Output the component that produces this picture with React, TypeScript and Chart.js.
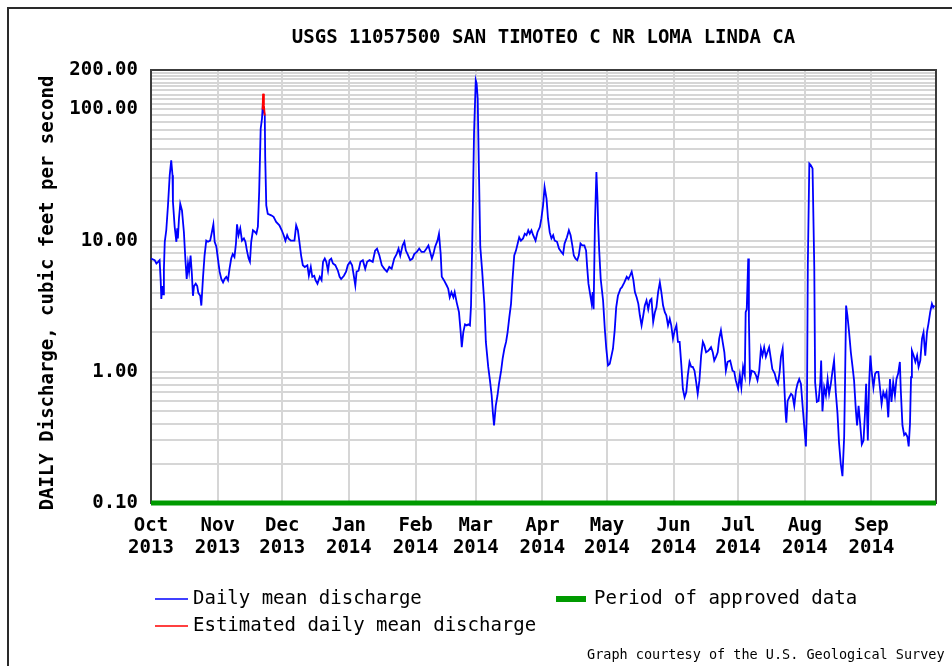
import React, { useEffect, useRef } from 'react';
import { Chart, registerables } from 'chart.js';

Chart.register(...registerables);

const FONT = '"DejaVu Sans Mono", "Liberation Mono", monospace';

const TITLE = 'USGS 11057500 SAN TIMOTEO C NR LOMA LINDA CA';
const Y_TITLE = 'DAILY Discharge, cubic feet per second';
const CREDIT = 'Graph courtesy of the U.S. Geological Survey';
const LEGEND_FLOW = 'Daily mean discharge';
const LEGEND_EST = 'Estimated daily mean discharge';
const LEGEND_APPROVED = 'Period of approved data';

// x axis: days since 1 Oct 2013
const X_MIN = 0;
const X_MAX = 365;
const monthStartDays = [0, 31, 61, 92, 123, 151, 182, 212, 243, 273, 304, 335];
const monthLabels = ['Oct', 'Nov', 'Dec', 'Jan', 'Feb', 'Mar', 'Apr', 'May', 'Jun', 'Jul', 'Aug', 'Sep'];
const yearLabels = ['2013', '2013', '2013', '2014', '2014', '2014', '2014', '2014', '2014', '2014', '2014', '2014'];

// y axis (log)
const Y_MIN = 0.1;
const Y_MAX = 200;
const yLabelValues = [0.1, 1, 10, 100, 200];
const yGridValues = [
  0.1, 0.2, 0.3, 0.4, 0.5, 0.6, 0.7, 0.8, 0.9,
  1, 2, 3, 4, 5, 6, 7, 8, 9,
  10, 20, 30, 40, 50, 60, 70, 80, 90,
  100, 110, 120, 130, 140, 150, 160, 170, 180, 190, 200,
];

// Daily mean discharge (cfs)
const flowDays = [
  0, 1.7, 2.5, 3.3, 4.0, 4.5, 4.8, 5.2, 5.6, 6.0, 6.4, 7.1, 7.9, 8.7, 9.4, 10.0, 10.2, 11.0, 11.8, 12.2,
  12.5, 13.0, 13.6, 14.4, 15.3, 16.0, 16.6, 17.2, 17.7, 18.4, 19.0, 19.5, 20.0, 20.8, 21.5, 22.0, 22.9, 23.4, 24.2, 24.9,
  25.7, 26.5, 27.5, 28.3, 29.0, 29.6, 30.4, 31.1, 31.9, 32.7, 33.5, 34.2, 35.0, 35.8, 36.5, 37.3, 38.0, 38.8, 39.5, 40.0,
  40.7, 41.5, 42.3, 43.2, 43.9, 44.6, 45.4, 46.0, 46.6, 47.4, 48.2, 49.0, 49.7, 50.3, 51.0, 51.6, 52.0, 52.9, 53.1, 53.6,
  54.3, 55.9, 57.0, 58.2, 59.7, 60.8, 61.7, 62.5, 63.3, 63.9, 65.0, 66.7, 67.5, 68.3, 69.0, 69.8, 70.6, 71.5, 72.7, 73.4,
  74.3, 75.0, 75.9, 76.5, 77.4, 78.5, 79.3, 80.0, 80.8, 81.5, 82.3, 83.0, 83.8, 84.6, 85.7, 86.9, 87.7, 88.4, 89.7, 90.7,
  91.5, 92.6, 93.5, 94.3, 95.0, 95.6, 96.5, 97.4, 98.5, 99.6, 100.5, 101.6, 103.1, 104.2, 105.1, 106.2, 107.3, 108.5, 109.7, 110.8,
  111.9, 113.1, 114.2, 115.1, 115.9, 117.0, 117.8, 118.5, 119.3, 120.5, 121.6, 122.4, 123.6, 124.7, 125.8, 127.0, 128.1, 129.0, 129.8, 130.6,
  131.3, 132.1, 133.2, 133.9, 134.7, 135.2, 136.2, 137.5, 138.2, 138.9, 139.7, 140.6, 141.2, 142.1, 143.2, 144.0, 144.5, 145.2, 146.0, 146.8,
  147.5, 148.3, 148.8, 149.4, 150.2, 151.0, 151.4, 151.9, 152.5, 153.1, 154.0, 155.0, 155.7, 156.8, 157.6, 158.4, 159.0, 159.5, 160.3, 161.1,
  161.8, 162.8, 163.5, 164.3, 165.1, 165.8, 166.6, 167.4, 168.1, 168.9, 169.7, 170.5, 171.2, 172.0, 173.0, 173.8, 174.6, 175.4, 176.1, 176.9,
  177.7, 178.8, 179.7, 180.8, 181.5, 182.3, 183.0, 183.9, 184.6, 185.4, 186.2, 187.0, 187.7, 188.8, 189.7, 190.8, 191.6, 192.3, 193.4, 194.3,
  195.1, 195.9, 196.6, 197.4, 198.2, 198.9, 199.7, 200.5, 201.5, 202.3, 202.8, 203.4, 204.2, 204.9, 205.4, 205.8, 206.4, 207.1, 207.6, 207.9,
  208.4, 209.1, 210.2, 211.0, 211.7, 212.5, 213.3, 214.0, 214.8, 215.6, 216.3, 217.1, 218.3, 218.9, 220.1, 221.2, 222.0, 222.7, 223.5, 224.3,
  225.0, 225.8, 226.6, 227.3, 228.1, 228.9, 229.6, 230.4, 231.2, 232.0, 232.7, 233.5, 234.3, 235.0, 235.8, 236.6, 237.3, 238.1, 238.9, 239.6,
  240.4, 241.2, 241.9, 242.7, 243.5, 244.3, 245.0, 245.8, 246.6, 247.3, 248.1, 248.9, 249.6, 250.4, 251.2, 251.9, 252.7, 253.5, 254.2, 255.0,
  255.8, 256.6, 257.3, 258.1, 259.2, 260.4, 261.2, 261.9, 262.7, 263.5, 264.2, 265.0, 265.8, 266.6, 267.3, 268.1, 269.3, 270.4, 271.2, 271.9,
  273.0, 273.8, 274.5, 275.3, 276.1, 276.5, 277.0, 277.7, 278.0, 278.5, 279.3, 280.5, 281.3, 282.0, 282.8, 283.6, 284.3, 285.1, 285.9, 286.6,
  287.4, 288.2, 288.9, 290.0, 290.8, 291.5, 292.3, 292.9, 293.7, 294.2, 295.0, 295.4, 296.0, 296.8, 297.6, 298.3, 299.1, 299.9, 300.6, 301.4,
  302.2, 302.9, 303.7, 304.5, 305.0, 305.4, 306.1, 306.8, 307.6, 308.4, 308.8, 309.6, 310.4, 311.2, 311.6, 312.2, 313.0, 313.8, 314.6, 315.3,
  316.1, 316.9, 317.6, 318.4, 319.2, 319.9, 320.7, 321.5, 322.3, 322.7, 323.2, 323.8, 324.6, 325.4, 326.2, 326.9, 327.7, 328.3, 329.0, 329.7,
  330.5, 331.3, 332.0, 332.5, 333.3, 333.9, 334.5, 335.1, 335.9, 336.7, 337.4, 338.2, 339.0, 339.7, 340.5, 341.3, 342.0, 342.8, 343.6, 344.3,
  345.1, 345.9, 346.6, 347.4, 348.2, 348.6, 349.4, 350.2, 350.9, 351.7, 352.3, 352.9, 353.4, 353.8, 354.6, 355.4, 356.2, 356.9, 357.7, 358.5,
  359.2, 360.0, 360.8, 361.5, 362.3, 363.1, 363.7, 364.3,
];
const flowValues = [
  7.3, 7.1, 6.7, 6.9, 7.1, 5.0, 3.6, 4.5, 3.9, 6.1, 9.8, 12, 18.6, 31.5, 41, 31.5, 19.8, 12.8, 9.8, 12.4,
  10.4, 14.7, 19.1, 17, 11.6, 7.1, 5.1, 6.7, 5.8, 7.7, 5.6, 3.8, 4.5, 4.7, 4.5, 4.0, 3.8, 3.2, 5.3, 7.7,
  10, 9.8, 10, 11.6, 13.3, 9.8, 9.0, 7.3, 5.8, 5.1, 4.8, 5.1, 5.3, 5.0, 6.1, 7.3, 7.9, 7.5, 9.5, 13.3,
  11, 12.4, 10, 10.4, 9.8, 8.4, 7.3, 6.9, 9.8, 12, 11.7, 11.3, 12.8, 23.7, 71.6, 85, 108, 90, 43.7, 18.6,
  16, 15.6, 15.2, 13.9, 13.1, 12, 11, 10, 11, 10.4, 10, 10, 13.1, 12, 9.8, 7.7, 6.5, 6.3, 6.5, 5.4,
  6.3, 5.3, 5.4, 5.0, 4.7, 5.3, 5.0, 6.9, 7.3, 6.9, 5.9, 7.1, 7.3, 6.7, 6.5, 5.9, 5.3, 5.1, 5.4, 5.8,
  6.5, 6.9, 6.5, 5.4, 4.55, 5.8, 5.9, 6.9, 7.1, 6.1, 6.9, 7.1, 6.9, 8.4, 8.7, 7.7, 6.5, 6.1, 5.8, 6.3,
  6.1, 7.3, 7.9, 8.7, 7.7, 9.2, 9.8, 8.4, 7.9, 7.1, 7.3, 7.9, 8.2, 8.7, 8.2, 8.2, 8.7, 9.2, 8.2, 7.3,
  7.9, 9.0, 10, 11.3, 7.9, 5.3, 5.0, 4.55, 4.3, 3.7, 4.05, 3.7, 4.05, 3.4, 2.85, 2.0, 1.54, 2.0, 2.3, 2.26,
  2.3, 2.26, 3.2, 10.4, 65.6, 167, 158, 121, 32.4, 9.0, 5.8, 3.3, 1.69, 1.09, 0.86, 0.66, 0.48, 0.39, 0.55, 0.66,
  0.81, 1.02, 1.26, 1.5, 1.69, 2.0, 2.6, 3.3, 5.1, 7.7, 8.4, 9.5, 10.6, 10, 10.4, 11.3, 11, 12, 11.3, 12,
  11, 10, 11.6, 12.7, 14.7, 18.6, 25.6, 20.9, 14.7, 11.6, 10.4, 11, 10, 9.8, 8.7, 8.2, 7.9, 9.5, 10.6, 12,
  11, 9.2, 7.7, 7.3, 7.1, 7.7, 9.5, 9.2, 9.2, 8.4, 6.3, 4.7, 3.9, 3.3, 4.05, 3.0, 13.1, 33.3, 20.9, 13.5,
  8.4, 5.1, 3.5, 2.13, 1.5, 1.12, 1.15, 1.3, 1.5, 2.07, 3.1, 3.8, 4.3, 4.4, 4.8, 5.3, 5.1, 5.4, 5.8, 5.0,
  4.05, 3.7, 3.3, 2.7, 2.26, 2.7, 3.2, 3.5, 3.0, 3.5, 3.6, 2.4, 2.85, 3.1, 4.05, 4.8, 4.05, 3.2, 2.85, 2.7,
  2.26, 2.54, 2.26, 1.79, 2.07, 2.26, 1.69, 1.69, 1.12, 0.74, 0.64, 0.7, 0.94, 1.19, 1.09, 1.09, 1.02, 0.83, 0.68, 0.86,
  1.33, 1.69, 1.59, 1.41, 1.45, 1.54, 1.41, 1.22, 1.3, 1.41, 1.79, 2.07, 1.69, 1.41, 1.02, 1.19, 1.22, 1.02, 1.0, 0.86,
  0.74, 0.94, 0.76, 1.09, 0.94, 2.85, 3.0, 7.3, 2.54, 0.88, 1.02, 1.0, 0.94, 0.86, 1.02, 1.5, 1.33, 1.54, 1.3, 1.41,
  1.54, 1.26, 1.05, 0.97, 0.86, 0.81, 1.0, 1.3, 1.5, 0.97, 0.5, 0.41, 0.6, 0.64, 0.68, 0.66, 0.55, 0.72, 0.81, 0.88,
  0.81, 0.57, 0.39, 0.27, 0.54, 6.5, 38.7, 37.5, 35.5, 6.3, 0.83, 0.59, 0.6, 0.83, 1.22, 0.5, 0.76, 0.66, 0.88, 0.68,
  0.81, 1.02, 1.22, 0.7, 0.48, 0.29, 0.2, 0.16, 0.32, 0.83, 3.2, 2.7, 2.0, 1.41, 1.09, 0.86, 0.52, 0.39, 0.55, 0.41,
  0.28, 0.3, 0.49, 0.81, 0.3, 0.81, 1.33, 1.0, 0.76, 0.97, 1.0, 1.0, 0.74, 0.57, 0.7, 0.64, 0.7, 0.45, 0.88, 0.59,
  0.83, 0.66, 0.88, 0.97, 1.19, 0.74, 0.39, 0.33, 0.34, 0.32, 0.27, 0.4, 0.91, 1.45, 1.33, 1.19, 1.33, 1.09, 1.22, 1.79,
  2.0, 1.33, 2.0, 2.33, 2.85, 3.3, 3.1, 3.2,
];

// Estimated daily mean discharge (cfs)
const estDays = [51.9, 52.1, 52.5, 52.9];
const estValues = [100, 132, 108, 90];

// Period of approved data
const approvedDays = [0, 365];
const approvedValues = [0.1, 0.1];

const COLOR_FLOW = '#0000ff';
const COLOR_EST = '#ff0000';
const COLOR_APPROVED = '#009a00';
const GRID_COLOR = '#d6d6d6';

const toPoints = (xs: number[], ys: number[]) => xs.map((x, i) => ({ x, y: ys[i] }));

const decorPlugin = {
  id: 'decor',
  beforeDraw(chart: any) {
    const { ctx, width, height } = chart;
    ctx.save();
    ctx.fillStyle = '#ffffff';
    ctx.fillRect(0, 0, width, height);
    ctx.restore();
  },
  beforeDatasetsDraw(chart: any) {
    const { ctx, chartArea: a } = chart;
    ctx.save();
    ctx.strokeStyle = '#3c3c3c';
    ctx.lineWidth = 2;
    ctx.strokeRect(a.left, a.top, a.right - a.left, a.bottom - a.top);
    ctx.restore();
  },
  afterDraw(chart: any) {
    const { ctx, chartArea: a } = chart;
    ctx.save();
    // outer frame
    ctx.strokeStyle = '#2a2a2a';
    ctx.lineWidth = 2;
    ctx.beginPath();
    ctx.moveTo(8, 700);
    ctx.lineTo(8, 8);
    ctx.lineTo(960, 8);
    ctx.stroke();

    ctx.fillStyle = '#000';
    ctx.textBaseline = 'middle';
    // title
    ctx.font = `bold 19px ${FONT}`;
    ctx.textAlign = 'center';
    ctx.fillText(TITLE, (a.left + a.right) / 2, 38);

    // y title
    ctx.save();
    ctx.translate(48, 293);
    ctx.rotate(-Math.PI / 2);
    ctx.fillText(Y_TITLE, 0, 0);
    ctx.restore();

    // legend
    ctx.textAlign = 'left';
    ctx.font = `19px ${FONT}`;
    ctx.lineWidth = 1.6;
    ctx.strokeStyle = COLOR_FLOW;
    ctx.beginPath();
    ctx.moveTo(155, 599);
    ctx.lineTo(188, 599);
    ctx.stroke();
    ctx.fillText(LEGEND_FLOW, 193, 599);

    ctx.strokeStyle = COLOR_EST;
    ctx.beginPath();
    ctx.moveTo(155, 626);
    ctx.lineTo(188, 626);
    ctx.stroke();
    ctx.fillText(LEGEND_EST, 193, 626);

    ctx.fillStyle = COLOR_APPROVED;
    ctx.fillRect(556, 596, 30, 6);
    ctx.fillStyle = '#000';
    ctx.fillText(LEGEND_APPROVED, 594, 599);

    // credit
    ctx.font = `13.5px ${FONT}`;
    ctx.fillText(CREDIT, 587, 655);
    ctx.restore();
  },
};

export default function App() {
  const ref = useRef<HTMLCanvasElement | null>(null);

  useEffect(() => {
    const canvas = ref.current;
    if (!canvas) return;
    const tickFont = { family: FONT, size: 19, weight: 'bold' as const, lineHeight: 1.16 };
    const chart = new Chart(canvas, {
      type: 'line',
      data: {
        datasets: [
          {
            label: LEGEND_APPROVED,
            data: toPoints(approvedDays, approvedValues),
            borderColor: COLOR_APPROVED,
            backgroundColor: COLOR_APPROVED,
            borderWidth: 5,
            pointRadius: 0,
            clip: false as any,
            order: 0,
          },
          {
            label: LEGEND_EST,
            data: toPoints(estDays, estValues),
            borderColor: COLOR_EST,
            backgroundColor: COLOR_EST,
            borderWidth: 1.8,
            pointRadius: 0,
            tension: 0,
            order: 1,
          },
          {
            label: LEGEND_FLOW,
            data: toPoints(flowDays, flowValues),
            borderColor: COLOR_FLOW,
            backgroundColor: COLOR_FLOW,
            borderWidth: 1.8,
            pointRadius: 0,
            tension: 0,
            order: 2,
          },
        ],
      },
      options: {
        animation: false,
        responsive: false,
        maintainAspectRatio: false,
        events: [],
        layout: { padding: { top: 70, right: 16, bottom: 103, left: 0 } },
        plugins: {
          legend: { display: false },
          tooltip: { enabled: false },
          title: { display: false },
        },
        scales: {
          x: {
            type: 'linear',
            min: X_MIN,
            max: X_MAX,
            afterBuildTicks: (scale: any) => {
              scale.ticks = monthStartDays.map((v) => ({ value: v }));
            },
            afterFit: (scale: any) => {
              scale.height = 60;
            },
            ticks: {
              autoSkip: false,
              maxRotation: 0,
              minRotation: 0,
              padding: 12,
              color: '#000',
              font: tickFont,
              callback: (_v: any, i: number) => [monthLabels[i], yearLabels[i]],
            },
            grid: { color: GRID_COLOR, lineWidth: 2, drawTicks: false },
            border: { display: false },
          },
          y: {
            type: 'logarithmic',
            min: Y_MIN,
            max: Y_MAX,
            afterBuildTicks: (scale: any) => {
              scale.ticks = yGridValues.map((v) => ({ value: v }));
            },
            afterFit: (scale: any) => {
              scale.width = 151;
            },
            ticks: {
              autoSkip: false,
              padding: 13,
              color: '#000',
              font: tickFont,
              callback: (v: any) => {
                const n = Number(v);
                return yLabelValues.some((l) => Math.abs(l - n) < 1e-9) ? n.toFixed(2) : '';
              },
            },
            grid: { color: GRID_COLOR, lineWidth: 2, drawTicks: false },
            border: { display: false },
          },
        },
      },
      plugins: [decorPlugin],
    } as any);
    return () => chart.destroy();
  }, []);

  return (
    <div style={{ position: 'fixed', left: 0, top: 0, width: 952, height: 666, background: '#fff' }}>
      <canvas ref={ref} width={952} height={666} style={{ display: 'block', width: 952, height: 666 }} />
    </div>
  );
}
